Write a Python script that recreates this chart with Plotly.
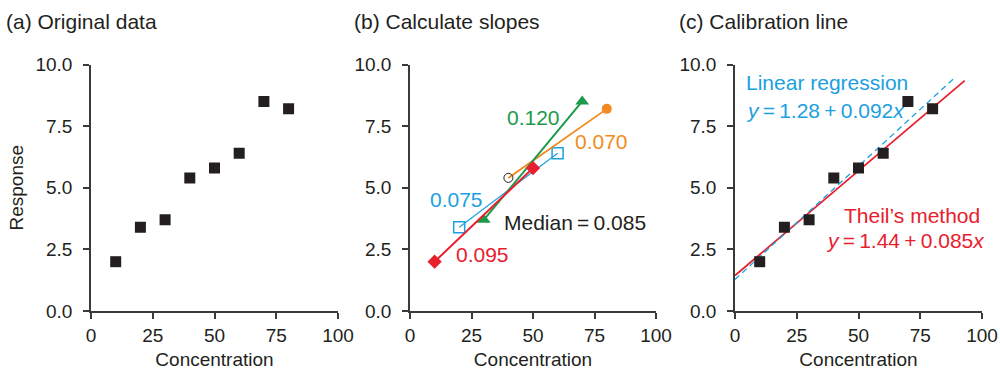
import plotly.graph_objects as go

# ---- data ----
conc = [10, 20, 30, 40, 50, 60, 70, 80]
resp = [2.0, 3.4, 3.7, 5.4, 5.8, 6.4, 8.5, 8.2]

# pairs used for slopes (panel b)
pair_red_x, pair_red_y = [10, 50], [2.0, 5.8]
pair_blue_x, pair_blue_y = [20, 60], [3.4, 6.4]
pair_green_x, pair_green_y = [30, 70], [3.7, 8.5]
pair_orange_x, pair_orange_y = [40, 80], [5.4, 8.2]
slope_labels = ["0.120", "0.070", "0.075", "0.095"]
median_label = "Median\u2009=\u20090.085"

# calibration lines (panel c)
theil_a, theil_b = 1.44, 0.085
lr_a, lr_b = 1.28, 0.092
theil_x = [0, 93]
lr_x = [0, 89]

xticks = [0, 25, 50, 75, 100]
yticks = [0, 2.5, 5, 7.5, 10]

RED = "#e8202e"
BLUE = "#1ba0e0"
GREEN = "#1a9a4a"
ORANGE = "#f28a22"
BLACK = "#231f20"
AXC = "#3a3a3a"
FONT = "Liberation Sans, Arial, sans-serif"
FS = 19
AFS = 21

fig = go.Figure()

# panel a
fig.add_trace(go.Scatter(x=conc, y=resp, mode="markers",
                         marker=dict(symbol="square", size=11, color=BLACK),
                         xaxis="x", yaxis="y", showlegend=False))

# panel b
fig.add_trace(go.Scatter(x=pair_blue_x, y=pair_blue_y, mode="lines+markers",
                         line=dict(color=BLUE, width=1.2),
                         marker=dict(symbol="square-open", size=11, color=BLUE, line=dict(width=1.5)),
                         xaxis="x2", yaxis="y2", showlegend=False))
fig.add_trace(go.Scatter(x=pair_orange_x, y=pair_orange_y, mode="lines",
                         line=dict(color=ORANGE, width=1.8),
                         xaxis="x2", yaxis="y2", showlegend=False))
fig.add_trace(go.Scatter(x=pair_orange_x[1:], y=pair_orange_y[1:], mode="markers",
                         marker=dict(symbol="circle", size=10, color=ORANGE),
                         xaxis="x2", yaxis="y2", showlegend=False))
fig.add_trace(go.Scatter(x=pair_orange_x[:1], y=pair_orange_y[:1], mode="markers",
                         marker=dict(symbol="circle-open", size=9, color=BLACK, line=dict(width=1)),
                         xaxis="x2", yaxis="y2", showlegend=False))
fig.add_trace(go.Scatter(x=pair_green_x, y=pair_green_y, mode="lines+markers",
                         line=dict(color=GREEN, width=2),
                         marker=dict(symbol="triangle-up", size=12, color=GREEN),
                         xaxis="x2", yaxis="y2", showlegend=False))
fig.add_trace(go.Scatter(x=pair_red_x, y=pair_red_y, mode="lines+markers",
                         line=dict(color=RED, width=2),
                         marker=dict(symbol="diamond", size=11, color=RED),
                         xaxis="x2", yaxis="y2", showlegend=False))

# panel c
fig.add_trace(go.Scatter(x=theil_x, y=[theil_a + theil_b * v for v in theil_x], mode="lines",
                         line=dict(color=RED, width=1.8),
                         xaxis="x3", yaxis="y3", showlegend=False))
fig.add_trace(go.Scatter(x=lr_x, y=[lr_a + lr_b * v for v in lr_x], mode="lines",
                         line=dict(color=BLUE, width=1.3, dash="6px,4px"),
                         xaxis="x3", yaxis="y3", showlegend=False))
fig.add_trace(go.Scatter(x=conc, y=resp, mode="markers",
                         marker=dict(symbol="square", size=11, color=BLACK),
                         xaxis="x3", yaxis="y3", showlegend=False))

ydom = [1 - 311 / 375, 1 - 64.5 / 375]
xdoms = [[91 / 1000, 338 / 1000], [410 / 1000, 656 / 1000], [735 / 1000, 982 / 1000]]

common_x = dict(range=[0, 100], tickvals=xticks, ticktext=[str(v) for v in xticks],
                showline=True, linecolor=AXC, linewidth=1.5, ticks="outside",
                ticklen=6, tickwidth=1.5, tickcolor=AXC, showgrid=False, zeroline=False,
                automargin=False,
                tickfont=dict(family=FONT, size=FS, color=BLACK),
                title=dict(text="Concentration", font=dict(family=FONT, size=FS, color=BLACK), standoff=8))
common_y = dict(range=[0, 10], tickvals=yticks, ticktext=["%.1f" % v for v in yticks],
                showline=True, linecolor=AXC, linewidth=1.5, ticks="outside",
                ticklen=6, tickwidth=1.5, tickcolor=AXC, showgrid=False, zeroline=False,
                ticklabelstandoff=7, automargin=False,
                tickfont=dict(family=FONT, size=FS, color=BLACK), domain=ydom)

layout = dict(width=1000, height=375, margin=dict(l=0, r=0, t=0, b=0),
              paper_bgcolor="white", plot_bgcolor="white",
              font=dict(family=FONT, size=FS, color=BLACK))
for i, suf in enumerate(["", "2", "3"]):
    layout["xaxis" + suf] = dict(common_x, domain=xdoms[i], anchor="y" + suf)
    ya = dict(common_y, anchor="x" + suf)
    if i == 0:
        ya["title"] = dict(text="Response", font=dict(family=FONT, size=FS, color=BLACK), standoff=7)
    layout["yaxis" + suf] = ya
fig.update_layout(**layout)

ann = []
# panel titles
for txt, xp in [("(a) Original data", 4), ("(b) Calculate slopes", 352), ("(c) Calibration line", 677)]:
    ann.append(dict(text=txt, x=xp / 1000, y=1 - 21 / 375, xref="paper", yref="paper",
                    xanchor="left", yanchor="middle", showarrow=False,
                    font=dict(family=FONT, size=21, color=BLACK)))
# slope labels
ann.append(dict(text=slope_labels[0], x=50, y=7.83, xref="x2", yref="y2", showarrow=False,
                font=dict(family=FONT, size=AFS, color=GREEN)))
ann.append(dict(text=slope_labels[1], x=78, y=6.86, xref="x2", yref="y2", showarrow=False,
                font=dict(family=FONT, size=AFS, color=ORANGE)))
ann.append(dict(text=slope_labels[2], x=19.1, y=4.54, xref="x2", yref="y2", showarrow=False,
                font=dict(family=FONT, size=AFS, color=BLUE)))
ann.append(dict(text=slope_labels[3], x=29.3, y=2.31, xref="x2", yref="y2", showarrow=False,
                font=dict(family=FONT, size=AFS, color=RED)))
ann.append(dict(text=median_label, x=67, y=3.57, xref="x2", yref="y2", showarrow=False,
                font=dict(family=FONT, size=AFS, color=BLACK)))
# calibration labels
ann.append(dict(text="Linear regression", x=3.8, y=9.25, xref="x3", yref="y3", xanchor="left",
                showarrow=False, font=dict(family=FONT, size=AFS, color=BLUE)))
ann.append(dict(text="<i>y</i>\u2009=\u2009%.2f\u2009+\u2009%.3f<i>x</i>" % (lr_a, lr_b), x=3.8, y=8.15,
                xref="x3", yref="y3",
                xanchor="left", showarrow=False, font=dict(family=FONT, size=AFS, color=BLUE)))
ann.append(dict(text="Theil\u2019s method", x=99.8, y=3.89, xref="x3", yref="y3", xanchor="right",
                showarrow=False, font=dict(family=FONT, size=AFS, color=RED)))
ann.append(dict(text="<i>y</i>\u2009=\u2009%.2f\u2009+\u2009%.3f<i>x</i>" % (theil_a, theil_b),
                x=987 / 1000, y=1 - 240 / 375,
                xref="paper", yref="paper",
                xanchor="right", yanchor="middle", showarrow=False, font=dict(family=FONT, size=AFS, color=RED)))
fig.update_layout(annotations=ann)

fig.write_html("out.html", config={"displayModeBar": False},
               post_script="document.body.style.margin='0';document.body.style.overflow='hidden';")
